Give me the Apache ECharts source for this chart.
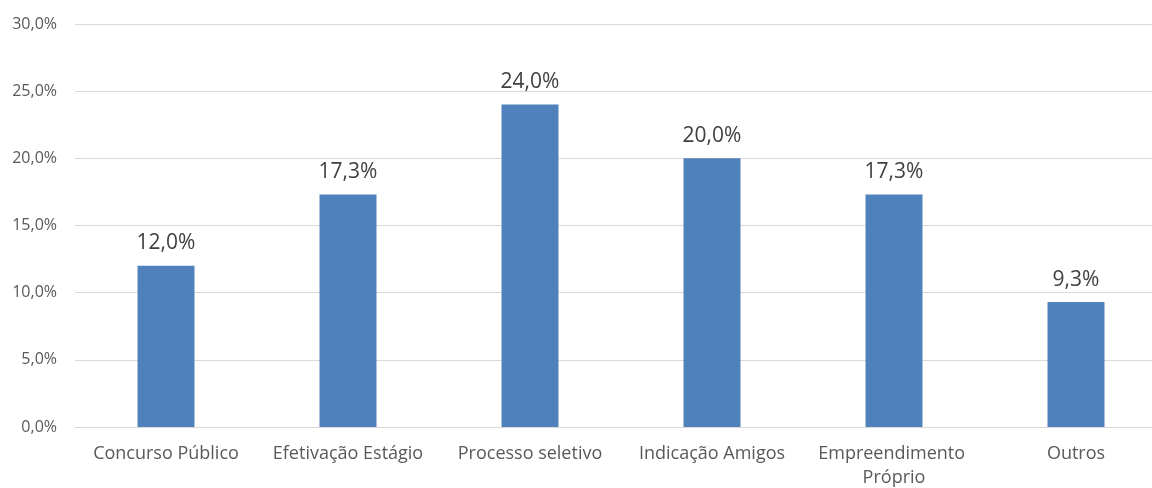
<!DOCTYPE html>
<html>
<head>
<meta charset="UTF-8">
<style>
  html, body { margin: 0; padding: 0; background: #fff; }
  #chart { width: 1152px; height: 488px; }
</style>
<script src="https://cdn.jsdelivr.net/npm/echarts@6/dist/echarts.min.js"></script>
</head>
<body>
<div id="chart"></div>
<script>
const categories = ['Concurso Público', 'Efetivação Estágio', 'Processo seletivo', 'Indicação Amigos', 'Empreendimento Próprio', 'Outros']
const values = [12.0, 17.3, 24.0, 20.0, 17.3, 9.3]
const yTicks = { min: 0, max: 30, interval: 5 }

const fmt = v => v.toFixed(1).replace('.', ',') + '%'
const font = '"Open Sans", "Noto Sans", sans-serif'

const chart = echarts.init(document.getElementById('chart'))
chart.setOption({
  animation: false,
  backgroundColor: '#fff',
  // the plot runs past the right edge of the picture
  grid: { left: 75, top: 24, width: 1092, height: 403, outerBoundsMode: 'none', containLabel: false },
  xAxis: {
    type: 'category',
    data: categories,
    axisLine: { lineStyle: { color: '#d9d9d9', width: 1 } },
    axisTick: { show: false },
    axisLabel: {
      color: '#595959',
      fontFamily: font,
      fontSize: 18,
      margin: 15,
      width: 182,
      overflow: 'break',
      lineHeight: 24,
      interval: 0
    }
  },
  yAxis: {
    type: 'value',
    min: yTicks.min,
    max: yTicks.max,
    interval: yTicks.interval,
    axisLine: { show: false },
    axisTick: { show: false },
    splitLine: { lineStyle: { color: '#d9d9d9', width: 1 } },
    axisLabel: {
      color: '#595959',
      fontFamily: font,
      fontSize: 16,
      margin: 18,
      formatter: v => fmt(v)
    }
  },
  series: [{
    type: 'bar',
    data: values,
    barWidth: 57,
    itemStyle: { color: '#4f81bd' },
    label: {
      show: true,
      position: 'top',
      distance: 12,
      color: '#404040',
      fontFamily: font,
      fontSize: 21,
      formatter: p => fmt(p.value)
    }
  }]
})
</script>
</body>
</html>
